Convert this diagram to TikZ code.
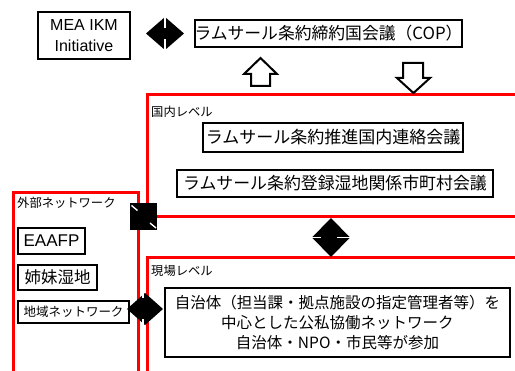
\documentclass[tikz,border=0pt]{standalone}
\usepackage{fontspec}
\setmainfont{Liberation Sans}
\newfontfamily\jp{Noto Sans CJK JP}
\tikzset{
  bx/.style={draw=black, line width=2pt, fill=white, inner sep=0pt, align=center, text=black},
  redbox/.style={draw=red, line width=3pt},
  lbl/.style={anchor=west, inner sep=0pt, font=\jp\fontsize{12.3}{14}\selectfont},
  blk/.style={fill=black, draw=none},
  slit/.style={draw=white, line width=1.4pt},
  hollow/.style={draw=black, line width=2pt, fill=white, line join=miter}
}
\begin{document}
\begin{tikzpicture}[x=1pt,y=-1pt]
\useasboundingbox (0,0) rectangle (515,371);
\clip (0,0) rectangle (515,371);
\fill[white] (0,0) rectangle (515,371);
% red level frames
\draw[redbox] (147,95) rectangle (530,217);
\draw[redbox] (13,193) rectangle (138,400);
\draw[redbox] (147,258) rectangle (530,400);
% labels
\node[lbl] (kokunai) at (151,112) {国内レベル};
\node[lbl] (gaibu) at (17,203) {外部ネットワーク};
\node[lbl] (genba) at (151,271) {現場レベル};
% boxes
\node[bx, minimum width=92pt, minimum height=47pt, font=\fontsize{16}{21}\selectfont] (mea) at (84,35.5) {MEA IKM\\Initiative};
\node[bx, minimum width=267pt, minimum height=27pt, font=\jp\fontsize{16.8}{18}\selectfont] (cop) at (328.5,33.5) {ラムサール条約締約国会議（COP）};
\node[bx, minimum width=260pt, minimum height=29pt, font=\jp\fontsize{17}{18}\selectfont] (suishin) at (333,137.5) {ラムサール条約推進国内連絡会議};
\node[bx, minimum width=316pt, minimum height=27pt, font=\jp\fontsize{16.9}{18}\selectfont] (shichoson) at (335,183.5) {ラムサール条約登録湿地関係市町村会議};
\node[bx, minimum width=67pt, minimum height=26pt, font=\fontsize{17}{19}\selectfont] (eaafp) at (51.5,241) {EAAFP};
\node[bx, minimum width=79pt, minimum height=25pt, font=\jp\fontsize{16.5}{18}\selectfont] (shimai) at (57.5,277.5) {姉妹湿地};
\node[bx, minimum width=111pt, minimum height=22pt, font=\jp\fontsize{12.5}{14}\selectfont] (chiiki) at (73.5,312) {地域ネットワーク};
\node[bx, minimum width=345pt, minimum height=69pt, font=\jp\fontsize{15.5}{20}\selectfont] (jichitai) at (337.5,322.5) {自治体（担当課・拠点施設の指定管理者等）を\\中心とした公私協働ネットワーク\\自治体・NPO・市民等が参加};
% up / down hollow arrows between COP and national level
\draw[hollow] (260.5,58) -- (277,74) -- (270,74) -- (270,86) -- (251,86) -- (251,74) -- (244,74) -- cycle;
\draw[hollow] (413.5,93) -- (430,78) -- (423,78) -- (423,63) -- (403,63) -- (403,78) -- (397,78) -- cycle;
% double arrow MEA <-> COP
\fill[blk] (146,33.5) -- (165,17) -- (184,33.5) -- (165,50) -- cycle;
\draw[slit] (165,16) -- (165,28);
\draw[slit] (165,39.5) -- (165,51);
% diagonal double arrow square
\fill[blk] (130,203) rectangle (157,230);
\draw[slit] (131.5,205.5) -- (137.5,210.5);
\draw[slit] (150,223) -- (156,228);
% vertical double arrow national <-> genba
\fill[blk] (331,218) -- (350,237.5) -- (331,257) -- (312,237.5) -- cycle;
\draw[slit] (311,237.5) -- (321,237.5);
\draw[slit] (337,237.5) -- (351,237.5);
% horizontal double arrow chiiki <-> jichitai
\fill[blk] (127,309) -- (145,293) -- (163,309) -- (145,325) -- cycle;
\draw[slit] (143,292) -- (143,298.5);
\draw[slit] (143,319.5) -- (143,326);
\end{tikzpicture}
\end{document}
